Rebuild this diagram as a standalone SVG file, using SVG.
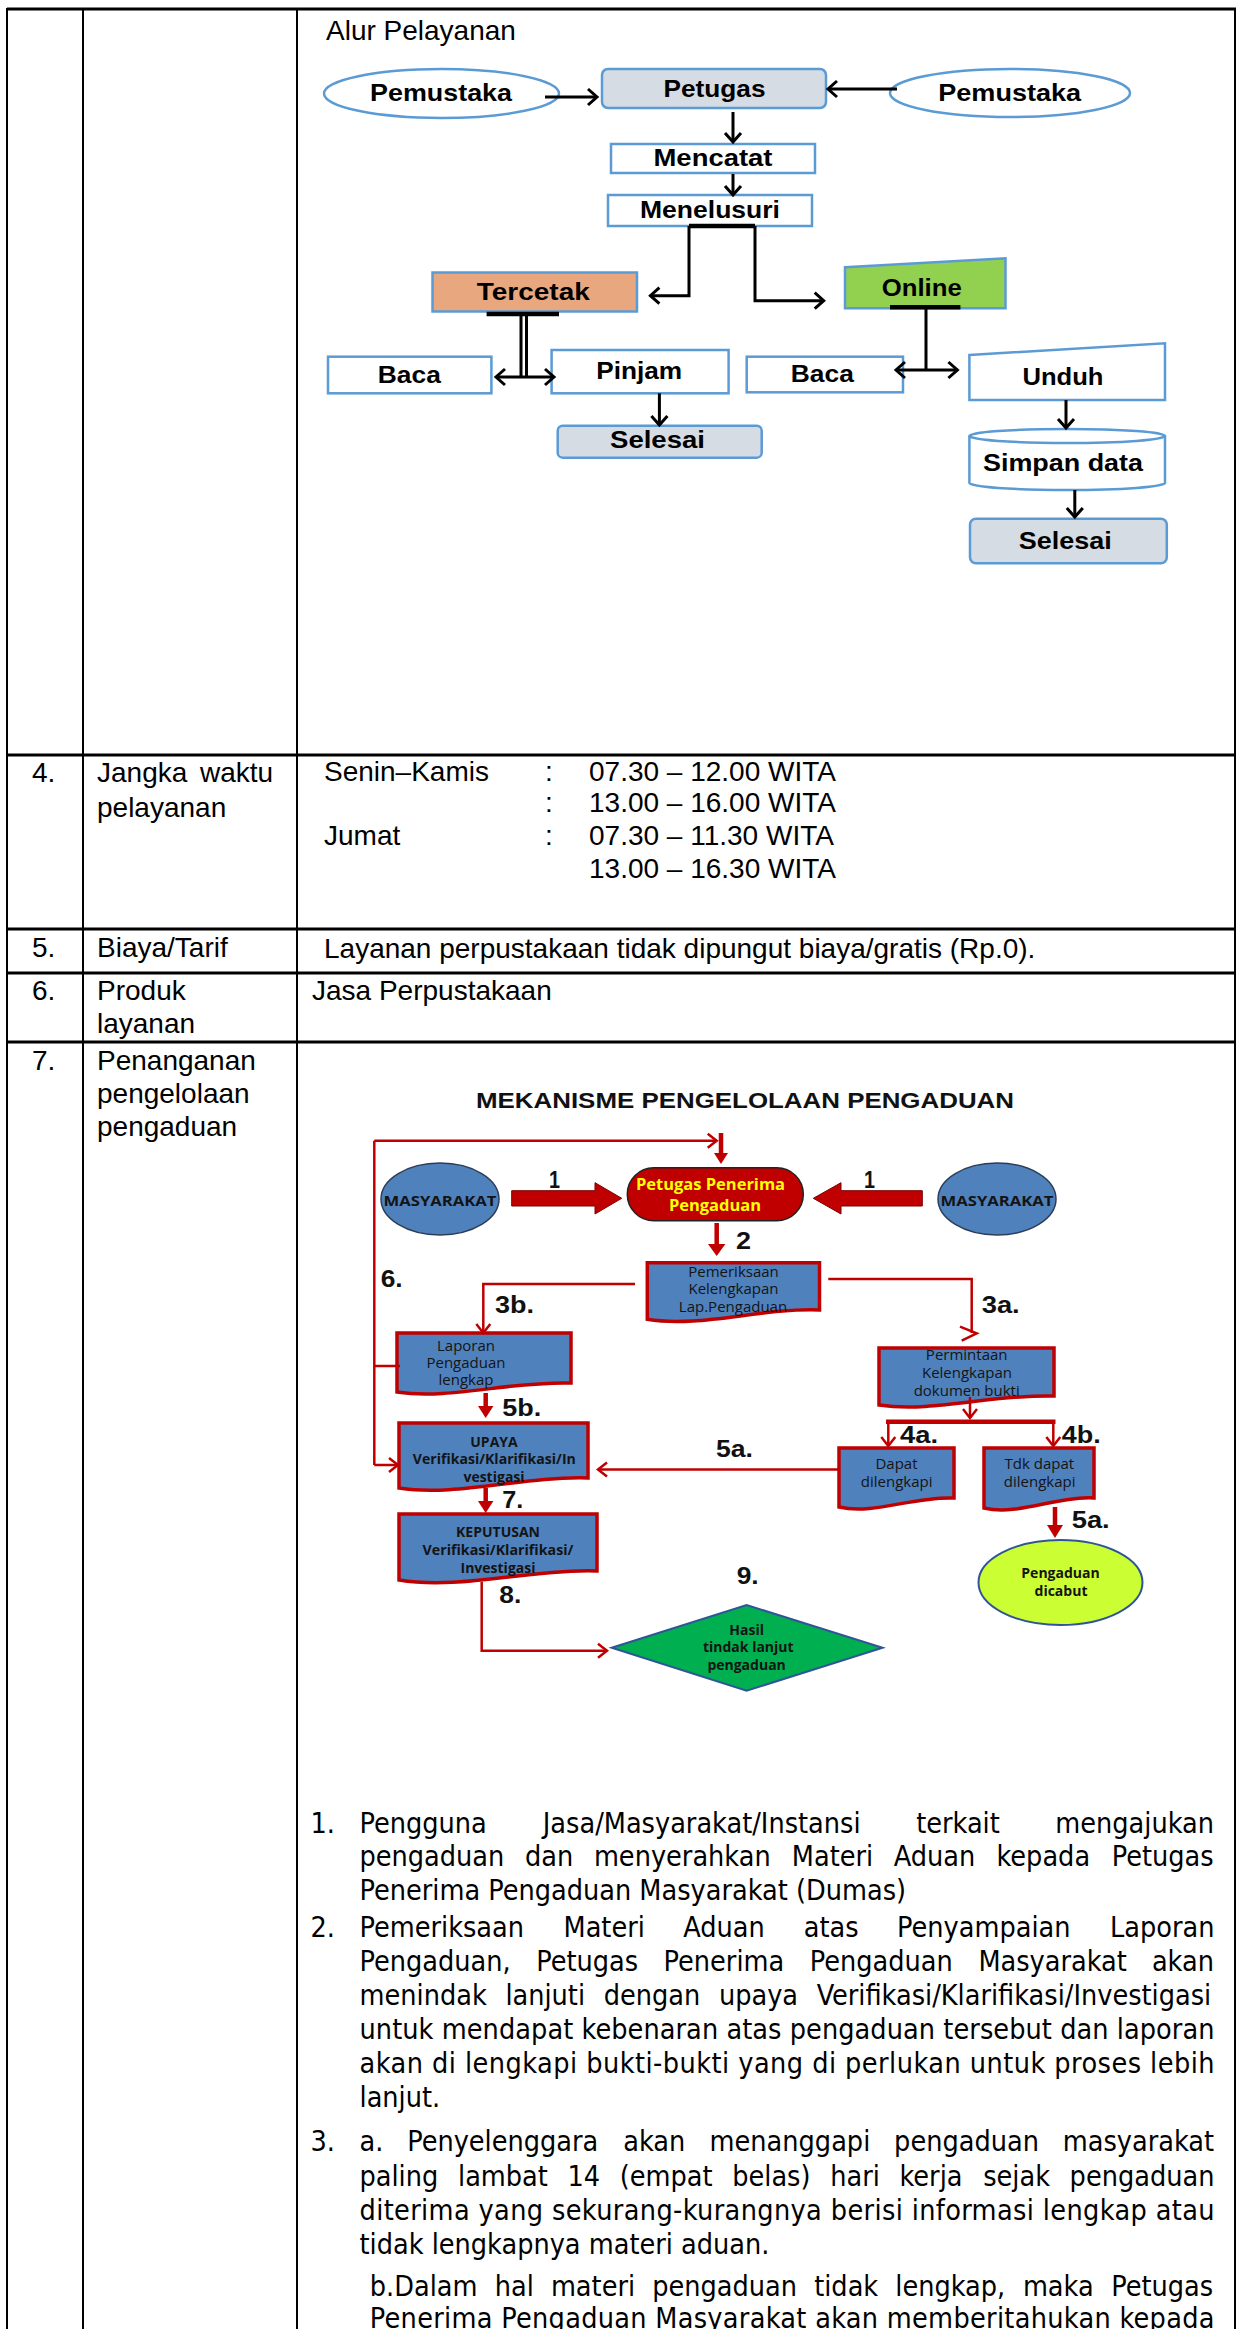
<svg xmlns="http://www.w3.org/2000/svg" width="1239" height="2329" viewBox="0 0 1239 2329">
<defs>
<style>
.grid{stroke:#000;stroke-width:2;fill:none}
.rowl{stroke:#000;stroke-width:3;fill:none}
.tbl{font-family:'Liberation Sans',Arial,sans-serif;font-size:28px;fill:#000}
.bx{stroke:#5b9bd5;stroke-width:2.5}
.lbl{font-family:'Liberation Sans',Arial,sans-serif;font-weight:bold;font-size:24px;fill:#000;text-anchor:middle}
.blk{stroke:#000;stroke-width:3;fill:none}
.bar{stroke:#000;stroke-width:4.5;fill:none}
.doc{fill:#4f81bd;stroke:#c00000;stroke-width:3.5}
.dt{font-family:'Open Sans','Noto Sans',sans-serif;font-size:15px;fill:#141414;text-anchor:middle}
.dtb{font-family:'Open Sans','Noto Sans',sans-serif;font-size:14px;font-weight:bold;fill:#141414;text-anchor:middle}
.rl{stroke:#c00000;stroke-width:2.5;fill:none}
.rt{stroke:#c00000;stroke-width:4.5;fill:none}
.rh{fill:#c00000}
.num{font-family:'Liberation Sans',Arial,sans-serif;font-weight:bold;font-size:24px;fill:#111}
.body{font-family:'DejaVu Sans Condensed','DejaVu Sans',sans-serif;font-stretch:condensed;font-size:28.5px;fill:#000}
</style>
<marker id="ak" markerUnits="userSpaceOnUse" markerWidth="14" markerHeight="20" refX="11" refY="10" orient="auto-start-reverse" viewBox="0 0 14 20"><path d="M2,2 L11,10 L2,18" fill="none" stroke="#000" stroke-width="3"/></marker>
<marker id="ar" markerUnits="userSpaceOnUse" markerWidth="14" markerHeight="18" refX="11" refY="9" orient="auto" viewBox="0 0 14 18"><path d="M2,2 L11,9 L2,16" fill="none" stroke="#c00000" stroke-width="2.5"/></marker>
</defs>

<g id="table">
<line class="rowl" x1="7" y1="9" x2="1236" y2="9"/>
<line class="grid" x1="7" y1="8" x2="7" y2="2329"/>
<line class="grid" x1="83" y1="8" x2="83" y2="2329"/>
<line class="grid" x1="297" y1="8" x2="297" y2="2329"/>
<line class="grid" x1="1235" y1="8" x2="1235" y2="2329"/>
<line class="rowl" x1="7" y1="755" x2="1236" y2="755"/>
<line class="rowl" x1="7" y1="929" x2="1236" y2="929"/>
<line class="rowl" x1="7" y1="973" x2="1236" y2="973"/>
<line class="rowl" x1="7" y1="1042" x2="1236" y2="1042"/>
<text class="tbl" x="326" y="40" font-size="29">Alur Pelayanan</text>
<text class="tbl" x="32" y="782">4.</text>
<text class="tbl" x="97" y="782">Jangka</text>
<text class="tbl" x="200" y="782">waktu</text>
<text class="tbl" x="97" y="817">pelayanan</text>
<text class="tbl" x="324" y="781">Senin–Kamis</text>
<text class="tbl" x="545" y="781">:</text>
<text class="tbl" x="589" y="781">07.30 – 12.00 WITA</text>
<text class="tbl" x="545" y="812">:</text>
<text class="tbl" x="589" y="812">13.00 – 16.00 WITA</text>
<text class="tbl" x="324" y="845">Jumat</text>
<text class="tbl" x="545" y="845">:</text>
<text class="tbl" x="589" y="845">07.30 – 11.30 WITA</text>
<text class="tbl" x="589" y="878">13.00 – 16.30 WITA</text>
<text class="tbl" x="32" y="957">5.</text>
<text class="tbl" x="97" y="957">Biaya/Tarif</text>
<text class="tbl" x="324" y="958">Layanan perpustakaan tidak dipungut biaya/gratis (Rp.0).</text>
<text class="tbl" x="32" y="1000">6.</text>
<text class="tbl" x="97" y="1000">Produk</text>
<text class="tbl" x="97" y="1033">layanan</text>
<text class="tbl" x="312" y="1000">Jasa Perpustakaan</text>
<text class="tbl" x="32" y="1070">7.</text>
<text class="tbl" x="97" y="1070">Penanganan</text>
<text class="tbl" x="97" y="1103">pengelolaan</text>
<text class="tbl" x="97" y="1136">pengaduan</text>
</g>

<g id="alur-nodes">
<g id="n-pemustaka-l"><ellipse class="bx" cx="441.5" cy="93.5" rx="117.5" ry="24.5" fill="#fff"/><text class="lbl" x="441" y="101" textLength="142" lengthAdjust="spacingAndGlyphs">Pemustaka</text></g>
<g id="n-petugas"><rect class="bx" x="602" y="69" width="224" height="39" rx="6" fill="#d6dce4"/><text class="lbl" x="714.5" y="97" textLength="102" lengthAdjust="spacingAndGlyphs">Petugas</text></g>
<g id="n-pemustaka-r"><ellipse class="bx" cx="1010" cy="93" rx="120" ry="24" fill="#fff"/><text class="lbl" x="1009.7" y="101" textLength="143" lengthAdjust="spacingAndGlyphs">Pemustaka</text></g>
<g id="n-mencatat"><rect class="bx" x="611" y="144" width="204" height="29" fill="#fff"/><text class="lbl" x="713" y="166" textLength="119" lengthAdjust="spacingAndGlyphs">Mencatat</text></g>
<g id="n-menelusuri"><rect class="bx" x="608" y="195" width="204" height="31" fill="#fff"/><text class="lbl" x="710" y="218" textLength="140" lengthAdjust="spacingAndGlyphs">Menelusuri</text></g>
<g id="n-tercetak"><rect class="bx" x="432.5" y="272.5" width="204.5" height="39" fill="#e8a77f"/><text class="lbl" x="533.3" y="300" textLength="113" lengthAdjust="spacingAndGlyphs">Tercetak</text></g>
<g id="n-online"><polygon class="bx" points="845,267.3 1005.5,258.3 1005.5,308.3 845,308.3" fill="#92d050"/><text class="lbl" x="921.7" y="296" textLength="80" lengthAdjust="spacingAndGlyphs">Online</text></g>
<g id="n-baca-l"><rect class="bx" x="328" y="356.7" width="163.4" height="36.6" fill="#fff"/><text class="lbl" x="409.3" y="382.7" textLength="63" lengthAdjust="spacingAndGlyphs">Baca</text></g>
<g id="n-pinjam"><rect class="bx" x="551.6" y="350" width="177" height="43.3" fill="#fff"/><text class="lbl" x="639.2" y="379.3" textLength="86" lengthAdjust="spacingAndGlyphs">Pinjam</text></g>
<g id="n-baca-r"><rect class="bx" x="746.7" y="356.7" width="156.3" height="35.6" fill="#fff"/><text class="lbl" x="822.3" y="381.7" textLength="63" lengthAdjust="spacingAndGlyphs">Baca</text></g>
<g id="n-unduh"><polygon class="bx" points="969.4,355 1165,343.3 1165,400 969.4,400" fill="#fff"/><text class="lbl" x="1063" y="385" textLength="81" lengthAdjust="spacingAndGlyphs">Unduh</text></g>
<g id="n-selesai-l"><rect class="bx" x="557.7" y="425.7" width="204" height="32" rx="5" fill="#d6dce4"/><text class="lbl" x="657.5" y="448.3" textLength="95" lengthAdjust="spacingAndGlyphs">Selesai</text></g>
<g id="n-simpan"><path class="bx" d="M969.4,436 V483 A97.8,7 0 0 0 1165,483 V436 A97.8,7 0 0 0 969.4,436 Z" fill="#fff"/><path class="bx" d="M969.4,436 A97.8,7 0 0 0 1165,436" fill="none"/><text class="lbl" x="1063" y="470.7" textLength="160" lengthAdjust="spacingAndGlyphs">Simpan data</text></g>
<g id="n-selesai-r"><rect class="bx" x="970" y="518.7" width="196.8" height="44.6" rx="6" fill="#d6dce4"/><text class="lbl" x="1065.3" y="549.3" textLength="93" lengthAdjust="spacingAndGlyphs">Selesai</text></g>
</g>

<g id="alur-connectors">
<path class="blk" d="M545,97 H597" marker-end="url(#ak)"/>
<path class="blk" d="M897,89 H828" marker-end="url(#ak)"/>
<path class="blk" d="M733,112 V142" marker-end="url(#ak)"/>
<path class="blk" d="M733,174 V195" marker-end="url(#ak)"/>
<path class="bar" d="M689,226 H755"/>
<path class="blk" d="M689,226 V295.7 H650.4" marker-end="url(#ak)"/>
<path class="blk" d="M755,226 V300.7 H823.7" marker-end="url(#ak)"/>
<path class="bar" d="M486.6,314 H559"/>
<path class="blk" d="M521,314 V377 M526.5,314 V377"/>
<path class="blk" d="M496,377 H554" marker-start="url(#ak)" marker-end="url(#ak)"/>
<path class="bar" d="M890,307.3 H960.4"/>
<path class="blk" d="M926,307.3 V370"/>
<path class="blk" d="M896,370 H957.4" marker-start="url(#ak)" marker-end="url(#ak)"/>
<path class="blk" d="M659.4,393.3 V425" marker-end="url(#ak)"/>
<path class="blk" d="M1066,400 V428" marker-end="url(#ak)"/>
<path class="blk" d="M1074.8,490 V517" marker-end="url(#ak)"/>
</g>

<g id="pengaduan-title">
<text x="476" y="1108" font-family="'Liberation Sans',Arial,sans-serif" font-weight="bold" font-size="22" textLength="538" lengthAdjust="spacingAndGlyphs" fill="#111">MEKANISME PENGELOLAAN PENGADUAN</text>
</g>

<g id="pengaduan-nodes">
<g id="p-masy-l"><ellipse cx="440" cy="1199" rx="59" ry="36" fill="#4f81bd" stroke="#2c3e57" stroke-width="1.5"/><text class="dtb" x="440" y="1206" font-size="17" textLength="113" lengthAdjust="spacingAndGlyphs">MASYARAKAT</text></g>
<g id="p-masy-r"><ellipse cx="997" cy="1199" rx="59" ry="36" fill="#4f81bd" stroke="#2c3e57" stroke-width="1.5"/><text class="dtb" x="997" y="1206" font-size="17" textLength="113" lengthAdjust="spacingAndGlyphs">MASYARAKAT</text></g>
<g id="p-petugas"><rect x="627.3" y="1167.7" width="176" height="53" rx="26.5" fill="#c00000" stroke="#222" stroke-width="1.5"/><text x="710.5" y="1190" font-family="'Open Sans','Noto Sans',sans-serif" font-weight="bold" font-size="16" fill="#ffff00" text-anchor="middle" textLength="149" lengthAdjust="spacingAndGlyphs">Petugas Penerima</text><text x="715" y="1210.7" font-family="'Open Sans','Noto Sans',sans-serif" font-weight="bold" font-size="16" fill="#ffff00" text-anchor="middle" textLength="92" lengthAdjust="spacingAndGlyphs">Pengaduan</text></g>
<g id="p-pemeriksaan"><path class="doc" d="M647.3,1262.7 H819.5 V1310 C759,1308 700,1328 647.3,1319.3 Z"/><text class="dt" x="733.5" y="1276.7">Pemeriksaan</text><text class="dt" x="733.5" y="1294.3">Kelengkapan</text><text class="dt" x="733" y="1311.7">Lap.Pengaduan</text></g>
<g id="p-laporan"><path class="doc" d="M397,1333 H571 V1383 C510,1381 450,1400 397,1392 Z"/><text class="dt" x="466" y="1351">Laporan</text><text class="dt" x="466" y="1368.3">Pengaduan</text><text class="dt" x="466" y="1385">lengkap</text></g>
<g id="p-permintaan"><path class="doc" d="M879,1348 H1054 V1396 C993,1394 933,1413 879,1405 Z"/><text class="dt" x="966.7" y="1360">Permintaan</text><text class="dt" x="967" y="1377.7">Kelengkapan</text><text class="dt" x="966.7" y="1395.7">dokumen bukti</text></g>
<g id="p-upaya"><path class="doc" d="M399,1423 H588 V1478 C522,1476 457,1497 399,1488 Z"/><text class="dtb" x="494" y="1446.7">UPAYA</text><text class="dtb" x="494.3" y="1464" textLength="163" lengthAdjust="spacingAndGlyphs">Verifikasi/Klarifikasi/In</text><text class="dtb" x="494" y="1481.7">vestigasi</text></g>
<g id="p-dapat"><path class="doc" d="M839,1448 H954 V1498 C914,1496 874,1515 839,1507 Z"/><text class="dt" x="896.5" y="1469.3">Dapat</text><text class="dt" x="896.7" y="1486.7">dilengkapi</text></g>
<g id="p-tdk"><path class="doc" d="M984,1448 H1094 V1498 C1056,1496 1018,1516 984,1508 Z"/><text class="dt" x="1039.3" y="1469.3">Tdk dapat</text><text class="dt" x="1039.7" y="1486.7">dilengkapi</text></g>
<g id="p-keputusan"><path class="doc" d="M399,1514 H597 V1571 C528,1569 460,1590 399,1580 Z"/><text class="dtb" x="498" y="1536.7">KEPUTUSAN</text><text class="dtb" x="498" y="1555" textLength="151" lengthAdjust="spacingAndGlyphs">Verifikasi/Klarifikasi/</text><text class="dtb" x="498" y="1572.7">Investigasi</text></g>
<g id="p-dicabut"><ellipse cx="1060.5" cy="1582.5" rx="82" ry="42.5" fill="#ccff33" stroke="#2f5597" stroke-width="2"/><text class="dtb" x="1060.5" y="1578.3" font-size="15">Pengaduan</text><text class="dtb" x="1061" y="1595.7" font-size="15">dicabut</text></g>
<g id="p-hasil"><polygon points="611.7,1647.8 746.6,1605 882.6,1647.8 746.6,1690.7" fill="#00b050" stroke="#2f5597" stroke-width="2"/><text class="dtb" x="746.6" y="1635">Hasil</text><text class="dtb" x="748.3" y="1651.7">tindak lanjut</text><text class="dtb" x="746.6" y="1670">pengaduan</text></g>
</g>

<g id="pengaduan-connectors">
<polygon points="511.7,1190.7 595,1190.7 595,1182.7 621.7,1198.3 595,1214 595,1206 511.7,1206" fill="#c00000" stroke="#7a0000" stroke-width="1"/>
<polygon points="922.3,1190.7 841,1190.7 841,1182.7 813.3,1198.3 841,1214 841,1206 922.3,1206" fill="#c00000" stroke="#7a0000" stroke-width="1"/>
<path class="rt" d="M721,1133 V1155"/><polygon class="rh" points="714,1153 728,1153 721,1164"/>
<path class="rt" d="M716.7,1223 V1246"/><polygon class="rh" points="708,1244 725.4,1244 716.7,1256"/>
<path class="rl" d="M400,1366 H374.3 M374.3,1140.7 V1465"/>
<path class="rl" d="M374.3,1140.7 H716.7" marker-end="url(#ar)"/>
<path class="rl" d="M374.3,1465 H398" marker-end="url(#ar)"/>
<path class="rl" d="M635,1284 H483.3 V1333" marker-end="url(#ar)"/>
<path class="rl" d="M828.3,1279 H971.7 V1333"/>
<path class="rl" d="M960,1326.7 L976.7,1333.3 L961.7,1340.7"/>
<path class="rt" d="M485.7,1393 V1408"/><polygon class="rh" points="478,1406 493.4,1406 485.7,1418"/>
<path class="rt" d="M485.7,1488 V1503"/><polygon class="rh" points="478,1501 493.4,1501 485.7,1513"/>
<path class="rl" d="M970,1397 V1418" marker-end="url(#ar)"/>
<path class="rt" d="M886,1421.7 H1055.5"/>
<path class="rl" d="M888.3,1421.7 V1446" marker-end="url(#ar)"/>
<path class="rl" d="M1053.3,1421.7 V1446" marker-end="url(#ar)"/>
<path class="rl" d="M839,1469.5 H598" marker-end="url(#ar)"/>
<path class="rt" d="M1055,1507 V1527"/><polygon class="rh" points="1047,1525 1063,1525 1055,1538"/>
<path class="rl" d="M481.7,1581.7 V1650.7 H607" marker-end="url(#ar)"/>
</g>

<g id="pengaduan-labels">
<text class="num" x="549" y="1188.3" font-size="25" textLength="11" lengthAdjust="spacingAndGlyphs">1</text>
<text class="num" x="864" y="1188.3" font-size="25" textLength="11" lengthAdjust="spacingAndGlyphs">1</text>
<text class="num" x="736" y="1249" textLength="15" lengthAdjust="spacingAndGlyphs">2</text>
<text class="num" x="380.7" y="1286.7" textLength="22" lengthAdjust="spacingAndGlyphs">6.</text>
<text class="num" x="495" y="1312.7" textLength="39" lengthAdjust="spacingAndGlyphs">3b.</text>
<text class="num" x="981.7" y="1312.7" textLength="38" lengthAdjust="spacingAndGlyphs">3a.</text>
<text class="num" x="502.3" y="1416" textLength="39" lengthAdjust="spacingAndGlyphs">5b.</text>
<text class="num" x="716" y="1456.7" textLength="37" lengthAdjust="spacingAndGlyphs">5a.</text>
<text class="num" x="900" y="1443.3" textLength="38" lengthAdjust="spacingAndGlyphs">4a.</text>
<text class="num" x="1061.7" y="1443.3" textLength="39" lengthAdjust="spacingAndGlyphs">4b.</text>
<text class="num" x="502.3" y="1507.7" textLength="21" lengthAdjust="spacingAndGlyphs">7.</text>
<text class="num" x="1071.7" y="1528.3" textLength="38" lengthAdjust="spacingAndGlyphs">5a.</text>
<text class="num" x="499.3" y="1602.7" textLength="22" lengthAdjust="spacingAndGlyphs">8.</text>
<text class="num" x="736.7" y="1584" textLength="22" lengthAdjust="spacingAndGlyphs">9.</text>
</g>

<g id="keterangan">
<text class="body" y="1833"><tspan x="310.5">1.</tspan><tspan x="359.5">Pengguna</tspan><tspan x="542.8">Jasa/Masyarakat/Instansi</tspan><tspan x="916.2">terkait</tspan><tspan x="1055.3">mengajukan</tspan></text>
<text class="body" y="1866.4"><tspan x="359.5">pengaduan</tspan><tspan x="525">dan</tspan><tspan x="593.9">menyerahkan</tspan><tspan x="791.8">Materi</tspan><tspan x="893.8">Aduan</tspan><tspan x="996.5">kepada</tspan><tspan x="1111.7">Petugas</tspan></text>
<text class="body" x="359.5" y="1899.5">Penerima Pengaduan Masyarakat (Dumas)</text>
<text class="body" y="1936.9"><tspan x="310.5">2.</tspan><tspan x="359.5">Pemeriksaan</tspan><tspan x="563.5">Materi</tspan><tspan x="683.3">Aduan</tspan><tspan x="803.8">atas</tspan><tspan x="897.1">Penyampaian</tspan><tspan x="1110">Laporan</tspan></text>
<text class="body" y="1970.7"><tspan x="359.5">Pengaduan,</tspan><tspan x="536.2">Petugas</tspan><tspan x="663.6">Penerima</tspan><tspan x="809.8">Pengaduan</tspan><tspan x="978.4">Masyarakat</tspan><tspan x="1151.9">akan</tspan></text>
<text class="body" y="2005.2"><tspan x="359.5">menindak</tspan><tspan x="505.4">lanjuti</tspan><tspan x="603.7">dengan</tspan><tspan x="718.9">upaya</tspan><tspan x="816.7">Verifikasi/Klarifikasi/Investigasi</tspan></text>
<text class="body" x="359.5" y="2039" textLength="855" lengthAdjust="spacing">untuk mendapat kebenaran atas pengaduan tersebut dan laporan</text>
<text class="body" x="359.5" y="2073.2" textLength="855" lengthAdjust="spacing">akan di lengkapi bukti-bukti yang di perlukan untuk proses lebih</text>
<text class="body" x="359.5" y="2106.6">lanjut.</text>
<text class="body" y="2151.4"><tspan x="310.5">3.</tspan><tspan x="359.5">a.</tspan><tspan x="407.2">Penyelenggara</tspan><tspan x="623.2">akan</tspan><tspan x="709.6">menanggapi</tspan><tspan x="894.1">pengaduan</tspan><tspan x="1062.8">masyarakat</tspan></text>
<text class="body" y="2185.9"><tspan x="359.5">paling</tspan><tspan x="458">lambat</tspan><tspan x="567.5">14</tspan><tspan x="619.8">(empat</tspan><tspan x="732.2">belas)</tspan><tspan x="830.2">hari</tspan><tspan x="899.5">kerja</tspan><tspan x="983.2">sejak</tspan><tspan x="1069.6">pengaduan</tspan></text>
<text class="body" x="359.5" y="2219.8" textLength="855" lengthAdjust="spacing">diterima yang sekurang-kurangnya berisi informasi lengkap atau</text>
<text class="body" x="359.5" y="2253.6">tidak lengkapnya materi aduan.</text>
<text class="body" y="2296.3"><tspan x="369.8">b.Dalam</tspan><tspan x="494.7">hal</tspan><tspan x="550.9">materi</tspan><tspan x="652.2">pengaduan</tspan><tspan x="814.2">tidak</tspan><tspan x="895.3">lengkap,</tspan><tspan x="1022.9">maka</tspan><tspan x="1111.3">Petugas</tspan></text>
<text class="body" x="369.8" y="2328" textLength="844.7" lengthAdjust="spacing">Penerima Pengaduan Masyarakat akan memberitahukan kepada</text>
</g>
</svg>
